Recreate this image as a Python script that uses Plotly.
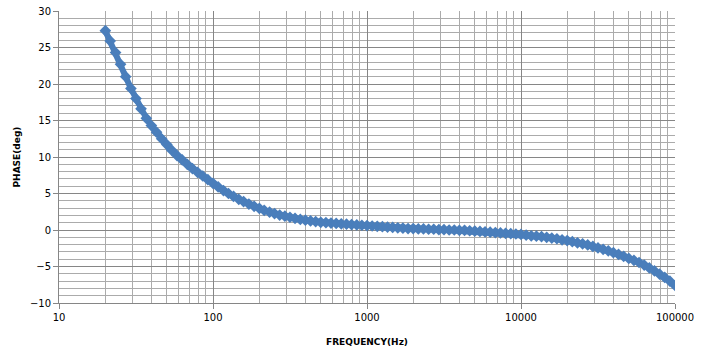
import plotly.graph_objects as go

# Frequency sweep (Hz)
freq_hz = [
    20, 21.5, 23.3, 25.1, 27.1, 29.3, 31.6, 34.1, 36.9, 39.8,
    43, 46.4, 50.1, 54.1, 58.4, 63.1, 68.1, 73.6, 79.4, 85.8,
    92.6, 100, 108, 117, 126, 136, 147, 158, 171, 185,
    200, 215, 233, 251, 271, 293, 316, 341, 369, 398,
    430, 464, 501, 541, 584, 631, 681, 736, 794, 858,
    926, 1000, 1080, 1166, 1259, 1359, 1468, 1585, 1711, 1848,
    1995, 2154, 2326, 2512, 2712, 2929, 3162, 3415, 3687, 3981,
    4299, 4642, 5012, 5412, 5843, 6310, 6813, 7356, 7943, 8577,
    9261, 10000, 10800, 11660, 12590, 13590, 14680, 15850, 17110, 18480,
    19950, 21540, 23260, 25120, 27120, 29290, 31620, 34150, 36870, 39810,
    42990, 46420, 50120, 54120, 58430, 63100, 68130, 73560, 79430, 85770,
    92610, 100000,
]

# Phase (deg)
phase_deg = [
    27.3, 25.9, 24.3, 22.7, 21.0, 19.4, 18.0, 16.6, 15.3, 14.3,
    13.4, 12.5, 11.7, 10.9, 10.2, 9.6, 9.0, 8.4, 7.9, 7.4,
    6.9, 6.4, 5.9, 5.4, 5.0, 4.6, 4.2, 3.9, 3.55, 3.25,
    2.95, 2.7, 2.45, 2.25, 2.05, 1.9, 1.75, 1.6, 1.45, 1.35,
    1.25, 1.15, 1.05, 1.0, 0.95, 0.9, 0.85, 0.8, 0.75, 0.7,
    0.65, 0.6, 0.55, 0.5, 0.45, 0.4, 0.35, 0.3, 0.25, 0.2,
    0.2, 0.15, 0.15, 0.1, 0.1, 0.05, 0.05, 0.0, 0.0, -0.05,
    -0.05, -0.1, -0.15, -0.2, -0.25, -0.3, -0.35, -0.4, -0.45, -0.5,
    -0.55, -0.6, -0.7, -0.8, -0.85, -0.9, -1.0, -1.1, -1.2, -1.35,
    -1.45, -1.6, -1.75, -1.9, -2.05, -2.25, -2.45, -2.65, -2.85, -3.1,
    -3.35, -3.6, -3.9, -4.15, -4.45, -4.8, -5.2, -5.6, -6.05, -6.5,
    -7.0, -7.6,
]

x_tick_vals = [10, 100, 1000, 10000, 100000]
x_tick_text = ["10", "100", "1000", "10000", "100000"]

MARKER_COLOR = "#4A7EBB"
MAJOR_GRID = "#868686"
MINOR_GRID = "#ABABAB"
FONT = "DejaVu Sans"

fig = go.Figure()
# band under the markers so the dense sweep reads as a continuous trace
fig.add_trace(go.Scatter(
    x=freq_hz, y=phase_deg, mode="lines",
    line=dict(color=MARKER_COLOR, width=6),
    showlegend=False, hoverinfo="skip",
))
fig.add_trace(go.Scatter(
    x=freq_hz, y=phase_deg, mode="markers",
    marker=dict(symbol="diamond", size=9, color=MARKER_COLOR, line=dict(width=0)),
    showlegend=False,
))

fig.update_layout(
    width=705, height=352,
    margin=dict(l=59, r=30, t=11, b=49),
    paper_bgcolor="white", plot_bgcolor="white",
    font=dict(family=FONT, size=10, color="#000000"),
)

fig.update_xaxes(
    type="log", range=[1, 5], automargin=False,
    tickvals=x_tick_vals, ticktext=x_tick_text,
    ticks="outside", ticklen=5, tickcolor=MAJOR_GRID,
    showgrid=True, gridcolor=MAJOR_GRID, gridwidth=1,
    minor=dict(dtick="D1", showgrid=True, gridcolor=MINOR_GRID, ticks=""),
    showline=True, linecolor=MAJOR_GRID, linewidth=1,
    zeroline=False,
    title=dict(text="<b>FREQUENCY(Hz)</b>", font=dict(family=FONT, size=9), standoff=16),
)

fig.update_yaxes(
    range=[-10, 30], dtick=5, tick0=0, automargin=False,
    ticks="outside", ticklen=5, tickcolor=MAJOR_GRID,
    showgrid=True, gridcolor=MAJOR_GRID, gridwidth=1,
    minor=dict(dtick=1, showgrid=True, gridcolor=MINOR_GRID, ticks=""),
    showline=True, linecolor=MAJOR_GRID, linewidth=1,
    zeroline=False,
    title=dict(text="<b>PHASE(deg)</b>", font=dict(family=FONT, size=9), standoff=7),
)

fig.write_html(
    "out.html",
    config={"displayModeBar": False},
    post_script="document.body.style.margin='0';",
)
